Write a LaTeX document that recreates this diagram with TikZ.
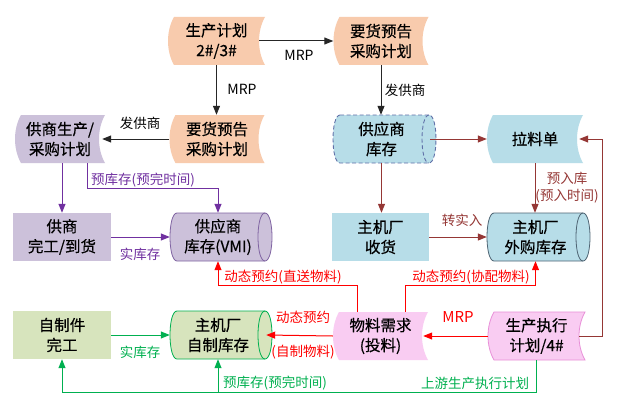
\documentclass[tikz,border=0pt]{standalone}
\usepackage{fontspec}
\setmainfont{Noto Sans CJK SC}
\newfontfamily\boxfont{Noto Sans CJK SC}[FakeBold=0.4]
\usetikzlibrary{arrows.meta,calc}
\definecolor{orangeF}{HTML}{F8CBAD}
\definecolor{purpleF}{HTML}{CCC1DA}
\definecolor{purpleB}{HTML}{8064A2}
\definecolor{blueF}{HTML}{B7DDE8}
\definecolor{blueB}{HTML}{4F6574}
\definecolor{dashB}{HTML}{6070A8}
\definecolor{pinkF}{HTML}{F9CCF2}
\definecolor{pinkB}{HTML}{E890D8}
\definecolor{oliveF}{HTML}{D7E4BD}
\definecolor{greenL}{HTML}{00B050}
\definecolor{purpleL}{HTML}{7030A0}
\definecolor{darkredL}{HTML}{953735}
\definecolor{redL}{HTML}{FF0000}
\newcommand\sdshape[6]{%
  \pgfmathsetmacro\sdhw{#4/2}%
  \path[#5] ({#2-\sdhw+6},{#3-24}) -- ({#2+\sdhw},{#3-24})
    .. controls ({#2+\sdhw-8},{#3-10}) and ({#2+\sdhw-8},{#3+10}) .. ({#2+\sdhw},{#3+24})
    -- ({#2-\sdhw+6},{#3+24})
    .. controls ({#2-\sdhw-2},{#3+10}) and ({#2-\sdhw-2},{#3-10}) .. cycle;
  \node[txt, minimum width=#4pt] (#1) at (#2,#3) {#6};
}
\newcommand\cylshape[6]{%
  \pgfmathsetmacro\sdhw{#4/2}%
  \pgfmathsetmacro\sdnw{#4-6}%
  \path[#5] ({#2-\sdhw+7},{#3-24}) -- ({#2+\sdhw-7},{#3-24})
    .. controls ({#2+\sdhw+2.33},{#3-24}) and ({#2+\sdhw+2.33},{#3+24}) .. ({#2+\sdhw-7},{#3+24})
    -- ({#2-\sdhw+7},{#3+24})
    .. controls ({#2-\sdhw-2.33},{#3+24}) and ({#2-\sdhw-2.33},{#3-24}) .. cycle;
  \path[#5, fill=none] ({#2+\sdhw-7},{#3-24})
    .. controls ({#2+\sdhw-16.33},{#3-24}) and ({#2+\sdhw-16.33},{#3+24}) .. ({#2+\sdhw-7},{#3+24});
  \node[txt, minimum width=\sdnw pt] (#1) at ({#2-3},#3) {#6};
}
\newcommand\rectshape[6]{%
  \node[txt, minimum width=#4pt, #5] (#1) at (#2,#3) {#6};
}
\begin{document}
\begin{tikzpicture}[x=1pt,y=-1pt,
  txt/.style={align=center, inner sep=0pt, minimum height=48pt,
    font=\boxfont\fontsize{15.5}{20}\selectfont},
  lbl/.style={inner sep=0pt, font=\fontsize{13.5}{17}\selectfont},
  conn/.style={line width=1pt, -{Triangle[length=9pt,width=7pt]}},
  blk/.style={conn, draw=black!85},
  pur/.style={conn, draw=purpleL},
  drd/.style={conn, draw=darkredL},
  rdd/.style={conn, draw=redL},
  grn/.style={conn, draw=greenL}]
\useasboundingbox[fill=white] (0,0) rectangle (626,420);

% shapes
\sdshape{jh}{216.5}{41}{97}{fill=orangeF}{生产计划\\2\#/3\#}
\sdshape{yh1}{381}{41}{95}{fill=orangeF}{要货预告\\采购计划}
\sdshape{yh2}{217}{139}{95}{fill=orangeF}{要货预告\\采购计划}
\sdshape{gscg}{60}{139}{90}{fill=purpleF}{供商生产/\\采购计划}
\rectshape{wg}{62}{237}{98}{fill=purpleF}{供商\\完工/到货}
\cylshape{vmi}{221}{237}{102}{fill=purpleF, draw=purpleB, line width=0.8pt}{供应商\\库存(VMI)}
\cylshape{gys}{384.5}{139}{103}{fill=blueF, draw=dashB, line width=0.9pt, dash pattern=on 4pt off 2.5pt}{供应商\\库存}
\sdshape{lld}{535}{139}{96}{fill=blueF}{拉料单}
\rectshape{sh}{380.5}{237}{97}{fill=blueF}{主机厂\\收货}
\cylshape{wgkc}{538.5}{237}{103}{fill=blueF, draw=blueB, line width=0.8pt}{主机厂\\外购库存}
\sdshape{sczx}{536.5}{336}{97}{fill=pinkF, draw=pinkB, line width=0.8pt}{生产执行\\计划/4\#}
\sdshape{wlxq}{380.5}{336}{95}{fill=pinkF}{物料需求\\(投料)}
\cylshape{zzkc}{221}{335}{102}{fill=oliveF, draw=greenL, line width=0.8pt}{主机厂\\自制库存}
\rectshape{zzj}{62}{335}{98}{fill=oliveF}{自制件\\完工}

% black connectors
\draw[blk] ([xshift=-6pt]jh.east) -- (yh1.west);
\draw[blk] (jh.south) -- (jh.south |- yh2.north);
\draw[blk] (yh2.west) -- ([xshift=-3pt]gscg.east);
\draw[blk] (yh1.south) -- (yh1.south |- gys.north);
\node[lbl, font=\fontsize{14}{17}\selectfont] (l1) at (299,55) {MRP};
\node[lbl, font=\fontsize{14}{17}\selectfont] (l2) at (242,89) {MRP};
\node[lbl] (l3) at (140,123) {发供商};
\node[lbl] (l4) at (405,90) {发供商};

% purple connectors
\draw[pur] (wg.north |- gscg.south) -- (wg.north);
\draw[pur] ([xshift=27pt]gscg.south) -- ++(0,25) -| (vmi.north);
\draw[pur] (wg.east) -- (vmi.west);
\node[lbl, text=purpleL] (l5) at (143,180) {预库存(预完时间)};
\node[lbl, text=purpleL] (l6) at (140,254) {实库存};

% dark red connectors
\draw[drd] (gys.east) -- (lld.west);
\draw[drd] (gys.south) -- (gys.south |- sh.north);
\draw[drd] (sh.east) -- (wgkc.west);
\draw[drd] (lld.south) -- (lld.south |- wgkc.north);
\draw[drd] ([xshift=-6pt]sczx.east) -- ++(23,0) |- ([xshift=-4pt]lld.east);
\node[lbl, text=darkredL] (l7) at (462,220) {转实入};
\node[lbl, text=darkredL, align=center, font=\fontsize{13.5}{17}\selectfont] (l8) at (567,188) {预入库\\(预入时间)};

% red connectors
\draw[rdd] ([xshift=-23.5pt]wlxq.north) -- ++(0,-26) -| (vmi.south);
\draw[rdd] ([xshift=24.5pt]wlxq.north) -- ++(0,-26) -| (wgkc.south);
\draw[rdd] (wlxq.west) -- (zzkc.east);
\draw[rdd] (sczx.west) -- ([xshift=-5pt]wlxq.east);
\node[lbl, text=redL] (l9) at (283,277) {动态预约(直送物料)};
\node[lbl, text=redL] (l10) at (471,277) {动态预约(协配物料)};
\node[lbl, text=redL] (l11) at (303,317) {动态预约};
\node[lbl, text=redL] (l12) at (303,352) {(自制物料)};
\node[lbl, text=redL, font=\fontsize{15}{17}\selectfont] (l13) at (458,317) {MRP};

% green connectors
\draw[grn] (zzj.east) -- (zzkc.west);
\draw[grn] (sczx.south) -- ++(0,32) coordinate (gc) -| (zzj.south);
\draw[grn] (gc -| zzkc.south) -- (zzkc.south);
\node[lbl, text=greenL] (l14) at (140,352) {实库存};
\node[lbl, text=greenL] (l15) at (275,383) {预库存(预完时间)};
\node[lbl, text=greenL] (l16) at (475,383) {上游生产执行计划};
\end{tikzpicture}
\end{document}
